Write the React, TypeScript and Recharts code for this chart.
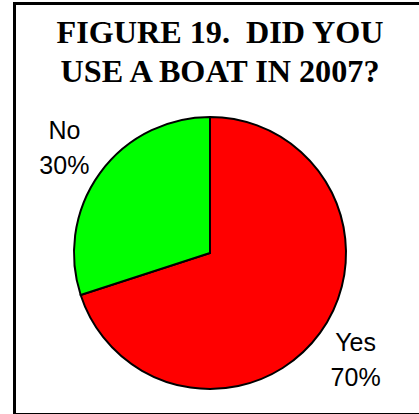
import React from "react";
import { PieChart, Pie, Cell } from "recharts";

const categories = ["Yes", "No"];
const values = [70, 30];
const colors = ["#FF0000", "#00FF00"];
const titleLines = ["FIGURE 19.  DID YOU", "USE A BOAT IN 2007?"];

const data = categories.map((name, i) => ({ name, value: values[i] }));

const RADIAN = Math.PI / 180;

const renderLabel = (props: any) => {
  const { cx, cy, midAngle, outerRadius, name, percent } = props;
  const r = outerRadius + 44;
  const x = cx + r * Math.cos(-midAngle * RADIAN);
  const y = cy + r * Math.sin(-midAngle * RADIAN);
  return (
    <text
      x={x}
      y={y}
      textAnchor="middle"
      fill="#000"
      fontFamily="'Liberation Sans', Arial, sans-serif"
      fontSize={25}
    >
      <tspan x={x} y={y - 8}>{name}</tspan>
      <tspan x={x} y={y + 27}>{`${Math.round(percent * 100)}%`}</tspan>
    </text>
  );
};

export default function App() {
  return (
    <div style={{ position: "absolute", left: 0, top: 0, width: 419, height: 414, background: "#fff", overflow: "hidden" }}>
      <div
        style={{
          position: "absolute",
          left: 13,
          top: 2,
          width: 430,
          height: 408,
          borderLeft: "3px solid #000",
          borderTop: "3px solid #000",
          borderBottom: "3px solid #000",
        }}
      />
      <svg width={419} height={100} style={{ position: "absolute", left: 0, top: 0 }}>
        {titleLines.map((t, i) => (
          <text
            key={i}
            x={220}
            y={43 + i * 39}
            textAnchor="middle"
            fontFamily="'Liberation Serif', 'Times New Roman', serif"
            fontWeight="bold"
            fontSize={32.2}
            fill="#000"
            style={{ whiteSpace: "pre" }}
            xmlSpace="preserve"
          >
            {t}
          </text>
        ))}
      </svg>
      <div style={{ position: "absolute", left: 0, top: 0 }}>
        <PieChart width={419} height={414} margin={{ top: 0, right: 0, bottom: 0, left: 0 }}>
          <Pie
            data={data}
            dataKey="value"
            nameKey="name"
            cx={210}
            cy={253}
            outerRadius={136}
            startAngle={90}
            endAngle={-270}
            stroke="#000"
            strokeWidth={2}
            label={renderLabel}
            labelLine={false}
            isAnimationActive={false}
          >
            {data.map((d, i) => (
              <Cell key={d.name} fill={colors[i]} />
            ))}
          </Pie>
        </PieChart>
      </div>
    </div>
  );
}
